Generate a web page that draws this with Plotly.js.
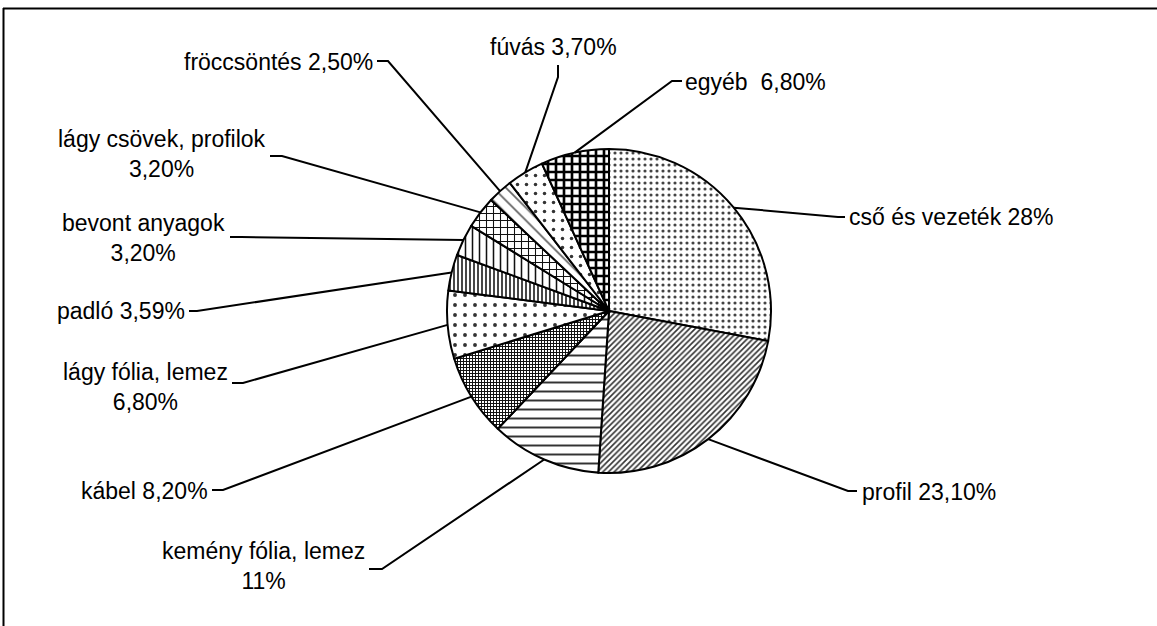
<!DOCTYPE html>
<html>
<head>
<meta charset="utf-8">
<script src="https://cdn.plot.ly/plotly-3.0.1.min.js"></script>
<style>html,body{margin:0;padding:0;background:#fff;}#chart{width:1157px;height:626px;}</style>
</head>
<body>
<div id="chart"></div>
<script>
// ---- data ----
const categories = ["cső és vezeték", "profil", "kemény fólia, lemez", "kábel", "lágy fólia, lemez", "padló", "bevont anyagok", "lágy csövek, profilok", "fröccsöntés", "fúvás", "egyéb"];
const values = [28, 23.1, 11, 8.2, 6.8, 3.59, 3.2, 3.2, 2.5, 3.7, 6.8];
const valueLabels = ["28%", "23,10%", "11%", "8,20%", "6,80%", "3,59%", "3,20%", "3,20%", "2,50%", "3,70%", "6,80%"];
// label break style: true = percentage on a second line
const twoLine = [false, false, true, false, true, false, true, true, false, false, false];

// ---- layout constants (pixels) ----
const W = 1157, H = 626;
const CX = 609, CY = 311, R = 162;
const FONT = 23;
// label placement: text anchor, leader elbow and end (pixels)
const place = [
  {x: 847, y: 217, xa: 'left',   el: [838, 217], en: [845, 217]},
  {x: 860, y: 492, xa: 'left',   el: [848, 491], en: [857, 491]},
  {x: 367, y: 566, xa: 'right',  el: [382, 569], en: [369, 569]},
  {x: 210, y: 491, xa: 'right',  el: [223, 490], en: [212, 490]},
  {x: 230, y: 387, xa: 'right',  el: [243, 383], en: [232, 383]},
  {x: 187, y: 311, xa: 'right',  el: [197, 311], en: [189, 311]},
  {x: 227, y: 238, xa: 'right',  el: [241, 237], en: [230, 237]},
  {x: 268, y: 154, xa: 'right',  el: [282, 156], en: [270, 156]},
  {x: 375, y: 62,  xa: 'right',  el: [388, 61],  en: [377, 61]},
  {x: 553, y: 47,  xa: 'center', el: [558, 77],  en: [558, 65]},
  {x: 683, y: 82,  xa: 'left',   el: [672, 81],  en: [682, 81]}
];

const patterns = [
  {shape: '.', size: 6,  solidity: 0.22, fgcolor: '#444'},
  {shape: '/', size: 4,  solidity: 0.4,  fgcolor: '#333'},
  {shape: '-', size: 9,  solidity: 0.22, fgcolor: '#333'},
  {shape: '+', size: 3,  solidity: 0.55, fgcolor: '#111'},
  {shape: '.', size: 10, solidity: 0.12, fgcolor: '#333'},
  {shape: '|', size: 4,  solidity: 0.45, fgcolor: '#333'},
  {shape: '|', size: 7,  solidity: 0.22, fgcolor: '#111'},
  {shape: '+', size: 7,  solidity: 0.28, fgcolor: '#111'},
  {shape: '\\', size: 9, solidity: 0.2,  fgcolor: '#666'},
  {shape: '.', size: 9,  solidity: 0.12, fgcolor: '#333'},
  {shape: '+', size: 8,  solidity: 0.55, fgcolor: '#000'}
];

const px = v => v / W;
const py = v => 1 - v / H;

const total = values.reduce((a, b) => a + b, 0);
let cum = 0;
const shapes = [];
const annotations = [];
values.forEach((v, i) => {
  const mid = (cum + v / 2) / total * 2 * Math.PI;
  cum += v;
  const ax = CX + R * Math.sin(mid);
  const ay = CY - R * Math.cos(mid);
  const p = place[i];
  shapes.push({
    type: 'path', xref: 'paper', yref: 'paper',
    path: `M ${px(ax)},${py(ay)} L ${px(p.el[0])},${py(p.el[1])} L ${px(p.en[0])},${py(p.en[1])}`,
    line: {color: '#000', width: 2}
  });
  const txt = twoLine[i] ? categories[i] + '<br>' + valueLabels[i]
    : (categories[i] === 'egyéb' ? categories[i] + '\u00a0 ' + valueLabels[i] : categories[i] + ' ' + valueLabels[i]);
  annotations.push({
    xref: 'paper', yref: 'paper', x: px(p.x), y: py(p.y),
    xanchor: p.xa, yanchor: 'middle', align: 'center',
    text: txt, showarrow: false,
    font: {family: 'Liberation Sans, Arial, sans-serif', size: FONT, color: '#000'}
  });
});

// frame (top and left edges)
shapes.push({type: 'line', xref: 'paper', yref: 'paper', x0: px(3), y0: py(8.5), x1: 1, y1: py(8.5), line: {color: '#000', width: 2}});
shapes.push({type: 'line', xref: 'paper', yref: 'paper', x0: px(3.5), y0: py(8), x1: px(3.5), y1: 0, line: {color: '#000', width: 2}});

const trace = {
  type: 'pie',
  labels: categories,
  values: values,
  sort: false,
  direction: 'clockwise',
  rotation: 0,
  textinfo: 'none',
  hoverinfo: 'label+percent',
  showlegend: false,
  domain: {x: [px(CX - R), px(CX + R)], y: [py(CY + R), py(CY - R)]},
  marker: {
    colors: values.map(() => '#fff'),
    line: {color: '#000', width: 2},
    pattern: {
      shape: patterns.map(p => p.shape),
      size: patterns.map(p => p.size),
      solidity: patterns.map(p => p.solidity),
      fgcolor: patterns.map(p => p.fgcolor),
      bgcolor: '#fff',
      fillmode: 'replace'
    }
  }
};

const layout = {
  width: W, height: H,
  margin: {l: 0, r: 0, t: 0, b: 0, pad: 0},
  paper_bgcolor: '#fff',
  plot_bgcolor: '#fff',
  showlegend: false,
  shapes: shapes,
  annotations: annotations,
  font: {family: 'Liberation Sans, Arial, sans-serif', size: FONT, color: '#000'}
};

Plotly.newPlot('chart', [trace], layout, {displayModeBar: false, staticPlot: true});
</script>
</body>
</html>
